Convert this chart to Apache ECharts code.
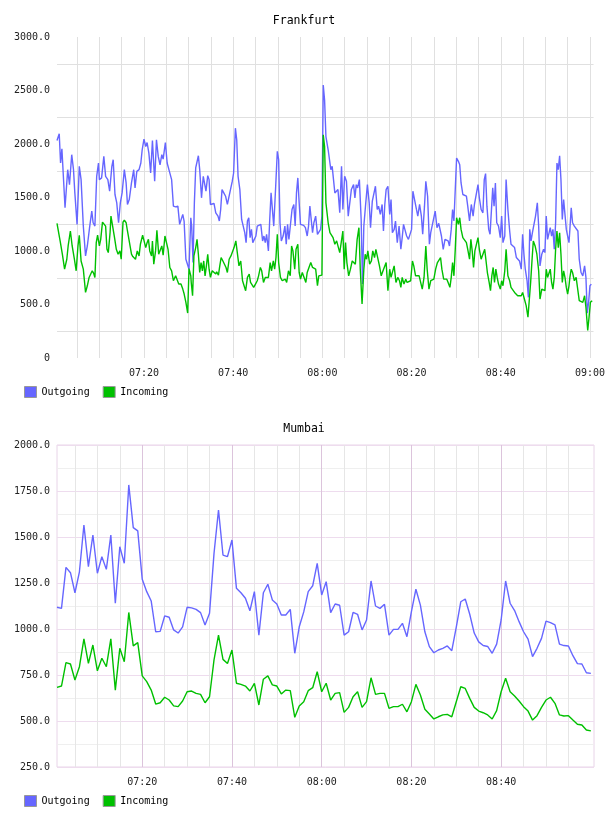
<!DOCTYPE html>
<html><head><meta charset="utf-8">
<script src="https://cdn.jsdelivr.net/npm/echarts@6/dist/echarts.min.js"></script>
<style>html,body{margin:0;padding:0;background:#fff}#c{width:608px;height:816px}</style>
</head><body><div id="c"></div>
<script>
const seriesNames = ['Outgoing', 'Incoming'];
const chartTitles = ['Frankfurt', 'Mumbai'];

// Frankfurt: [minutes after 07:00, value]
const frankfurtOutgoing = [
[0.5,2033],[1.0,2095],[1.3,1822],[1.6,1955],[2.3,1404],[2.9,1760],[3.3,1620],[3.8,1900],[4.2,1760],[4.5,1543],[5.0,1249],[5.5,1791],[5.9,1667],[6.4,1233],[6.9,954],[7.3,1047],[7.8,1218],[8.3,1373],[8.6,1264],[9.0,1233],[9.4,1698],[9.8,1822],[10.0,1667],[10.5,1683],[11.0,1884],[11.4,1698],[11.9,1667],[12.3,1559],[12.8,1791],[13.1,1853],[13.5,1528],[13.9,1450],[14.3,1264],[14.7,1450],[15.1,1543],[15.6,1760],[16.0,1636],[16.3,1435],[16.7,1481],[17.2,1636],[17.7,1760],[18.0,1590],[18.4,1744],[18.9,1760],[19.3,1822],[19.6,1946],[20.0,2045],[20.4,1977],[20.7,2014],[21.1,1915],[21.5,1729],[21.9,2033],[22.4,1652],[22.8,2039],[23.2,1884],[23.6,1806],[24.0,1900],[24.3,1859],[24.8,2014],[25.2,1822],[25.7,1744],[26.2,1667],[26.6,1419],[27.1,1413],[27.6,1419],[28.0,1249],[28.4,1233],[28.7,1342],[29.0,1280],[29.4,923],[29.8,929],[30.1,830],[30.5,1311],
[30.7,1233],[31.0,892],[31.3,1450],[31.6,1776],[31.9,1782],[32.2,1890],[32.5,1760],[32.9,1497],[33.3,1698],[33.7,1704],[33.9,1559],[34.3,1704],[34.6,1667],[34.9,1435],[35.3,1450],[35.7,1444],[36.1,1357],[36.4,1373],[36.6,1326],[36.9,1280],[37.2,1388],[37.5,1574],[37.9,1543],[38.3,1512],[38.7,1435],[39.0,1450],[39.4,1574],[39.8,1652],[40.1,1729],[40.5,2148],[40.8,2039],[41.1,1698],[41.5,1574],[41.9,1295],[42.2,1280],[42.6,1171],[42.9,1078],[43.2,1280],[43.5,1311],[43.8,1125],[44.1,1202],[44.4,1078],[44.7,1063],[45.1,1140],[45.4,1233],[45.8,1249],[46.2,1249],[46.6,1094],[46.9,1140],[47.2,1078],[47.5,1156],[47.9,1001],[48.2,1295],[48.5,1543],[48.8,1543],[49.1,1233],[49.5,1574],[49.9,1931],[50.2,1853],[50.5,1264],[50.8,1094],[51.2,1140],[51.6,1233],[51.9,1063],[52.2,1249],[52.5,1109],[52.8,1094],[53.2,1388],[53.6,1435],[53.9,1233],[54.2,1543],[54.5,1683],[54.8,1450],[55.1,1249],[55.5,1233],[55.8,1240],[56.2,1218],[56.6,1140],[56.9,1233],[57.2,1419],[57.5,1425],[57.8,1171],[58.1,1264],[58.5,1326],[58.9,1156],[59.3,1156],[59.6,1202],[59.9,1326],[60.2,2551],[60.5,2411],[60.8,2070],
[61.3,1946],[61.6,1931],[61.9,1760],[62.2,1791],[62.5,1667],[62.8,1543],[63.2,1559],[63.5,1574],[63.9,1357],[64.3,1791],[64.6,1388],[65.0,1698],[65.4,1652],[65.8,1326],[66.1,1342],[66.5,1574],[67.0,1620],[67.3,1497],[67.6,1620],[67.9,1590],[68.3,1667],[68.7,1295],[69.0,691],[69.3,1233],[69.7,1435],[70.1,1620],[70.5,1450],[70.8,1218],[71.2,1466],[71.5,1450],[71.9,1605],[72.3,1388],[72.6,1419],[73.0,1342],[73.4,1435],[73.7,1187],[74.0,1435],[74.3,1574],[74.7,1605],[75.1,1342],[75.4,1481],[75.7,1171],[76.1,1202],[76.4,1280],[76.8,1078],[77.2,1233],[77.6,1016],[77.9,1125],[78.2,1249],[78.5,1202],[78.9,1140],[79.3,1109],[79.6,1094],[80.0,1202],[80.3,1559],[80.7,1543],[81.1,1388],[81.4,1326],[81.8,1435],[82.2,1326],[82.5,1156],[82.9,1419],[83.2,1652],[83.6,1512],[84.0,1063],[84.3,1171],[84.7,1156],[85.0,1311],[85.3,1373],[85.7,1218],[86.1,1258],[86.4,1249],[86.7,1140],[87.1,1016],[87.5,1109],[87.9,1109],[88.2,1094],[88.5,1047],[88.9,1202],[89.2,1388],[89.5,1280],[89.8,1264],[90.1,1869],[90.5,1838],[90.8,1806],[91.1,1636],
[91.5,1528],[91.9,1528],[92.3,1512],[92.6,1419],[93.0,1280],[93.4,1435],[93.8,1326],[94.1,1435],[94.5,1419],[94.9,1621],[95.2,1497],[95.6,1388],[96.0,1357],[96.3,1667],[96.6,1723],[96.9,1419],[97.3,1202],[97.6,1156],[97.9,1171],[98.2,1590],[98.5,1419],[98.8,1636],[99.1,1264],[99.5,1233],[99.9,1125],[100.2,1326],[100.5,1078],[100.9,1140],[101.2,1667],[101.6,1388],[102.0,1187],[102.3,1063],[102.7,1047],[103.1,1032],[103.5,939],[103.8,939],[104.2,907],[104.6,830],[104.9,1156],[105.2,970],[105.5,830],[105.9,722],[106.2,567],[106.5,1202],[106.8,1094],[107.1,1171],[107.4,1171],[107.8,1326],[108.2,1450],[108.5,1233],[108.8,861],[109.2,970],[109.6,1016],[109.9,985],[110.2,1326],[110.5,1109],[110.8,1125],[111.1,1218],[111.4,1140],[111.7,1202],[112.0,1016],[112.3,1264],[112.6,1822],[112.9,1760],[113.2,1890],[113.5,1667],[113.8,1295],[114.1,1481],[114.4,1481],[114.7,1202],[115.0,1140],[115.3,1078],[115.5,1202],[115.8,1404],[116.1,1264],[116.5,1233],[116.9,1218],[117.3,1187],[117.6,923],[118.0,799],[118.4,768],[118.8,861],[119.1,753],[119.4,420],[119.7,520],[120.0,675],[120.3,691]
];
const frankfurtIncoming = [
[0.5,1258],[0.8,1249],[1.2,1094],[1.7,970],[2.2,830],[2.7,923],[3.0,1047],[3.5,1187],[3.9,1047],[4.4,923],[4.8,815],[5.2,1047],[5.5,1146],[5.9,907],[6.4,830],[6.9,613],[7.3,675],[7.7,753],[8.0,737],[8.4,815],[8.7,793],[9.0,753],[9.3,1078],[9.6,1149],[10.0,1047],[10.3,1109],[10.7,1270],[11.0,1270],[11.4,1233],[11.7,1016],[12.0,985],[12.4,1171],[12.6,1326],[13.0,1326],[13.4,1125],[13.8,1016],[14.2,970],[14.6,1001],[14.9,923],[15.3,1270],[15.6,1289],[16.0,1264],[16.3,1187],[16.7,1177],[17.2,970],[17.5,948],[17.8,954],[18.1,923],[18.5,1001],[18.9,954],[19.2,1063],[19.7,1149],[20.1,1162],[20.4,1032],[20.7,1078],[21.0,1109],[21.3,1001],[21.7,954],[21.9,1094],[22.2,877],[22.6,1001],[22.9,1193],[23.3,970],[23.7,970],[24.0,1047],[24.3,961],[24.7,1140],[25.1,1156],[25.4,1016],[25.8,846],[26.2,815],[26.6,722],[27.1,768],[27.5,753],[27.8,691],[28.3,691],[28.7,644],[29.0,600],[29.4,520],[29.8,420],[30.1,836],[30.5,768],
[30.6,706],[30.9,582],[31.2,954],[31.6,1032],[31.9,1109],[32.2,970],[32.5,799],[32.8,892],[33.1,815],[33.4,907],[33.7,768],[34.0,861],[34.3,970],[34.6,830],[34.9,753],[35.3,815],[35.7,805],[36.1,784],[36.3,805],[36.7,774],[37.0,861],[37.3,939],[37.7,907],[38.0,923],[38.4,846],[38.7,799],[39.1,923],[39.5,954],[39.9,970],[40.2,1032],[40.6,1094],[41.0,1078],[41.3,861],[41.7,907],[42.1,722],[42.5,722],[42.8,629],[43.2,753],[43.6,784],[43.9,706],[44.3,691],[44.6,660],[45.0,691],[45.4,722],[45.7,768],[46.1,846],[46.4,815],[46.8,706],[47.2,753],[47.5,753],[47.9,753],[48.3,892],[48.6,815],[49.0,907],[49.3,830],[49.6,939],[49.9,1156],[50.2,892],[50.6,753],[51.0,722],[51.3,737],[51.7,737],[52.0,706],[52.4,815],[52.8,768],[53.1,1047],[53.4,1001],[53.8,830],[54.1,1016],[54.5,1063],[54.8,799],[55.1,737],[55.5,799],[55.9,753],[56.3,706],[56.6,799],[57.0,815],[57.4,892],[57.8,846],[58.1,830],[58.5,830],[58.9,675],[59.2,768],[59.6,768],[59.9,774],[60.2,2086],[60.5,1977],[60.8,1450],
[61.3,1264],[61.7,1171],[62.0,1171],[62.4,1125],[62.8,1063],[63.2,1094],[63.5,1078],[63.9,985],[64.3,970],[64.6,1187],[64.9,830],[65.2,1078],[65.5,892],[65.9,768],[66.3,830],[66.7,907],[67.0,892],[67.4,877],[67.8,1109],[68.2,1218],[68.5,830],[68.9,505],[69.3,830],[69.6,970],[69.9,923],[70.2,1001],[70.6,877],[71.0,907],[71.3,1001],[71.7,939],[72.0,1016],[72.4,939],[72.8,861],[73.2,768],[73.6,815],[74.0,799],[74.3,892],[74.7,629],[75.1,830],[75.4,753],[75.8,815],[76.1,861],[76.5,706],[76.9,753],[77.3,722],[77.6,660],[77.9,753],[78.3,691],[78.7,737],[79.0,706],[79.4,722],[79.8,722],[80.2,907],[80.5,861],[80.9,768],[81.3,784],[81.7,768],[82.0,753],[82.4,644],[82.8,753],[83.2,1047],[83.5,830],[83.9,644],[84.3,722],[84.6,722],[85.0,737],[85.4,830],[85.8,892],[86.1,907],[86.5,939],[86.8,830],[87.2,737],[87.6,722],[87.9,737],[88.2,706],[88.6,660],[88.9,753],[89.2,892],[89.5,768],[89.8,1016],[90.1,1311],[90.5,1249],[90.8,1311],[91.1,1202],
[91.5,1125],[91.9,1109],[92.3,1078],[92.6,1016],[93.0,923],[93.3,1109],[93.6,1001],[93.9,846],[94.2,1001],[94.5,1016],[94.9,1125],[95.2,1016],[95.6,923],[96.0,923],[96.4,1016],[96.7,1032],[97.0,799],[97.4,706],[97.7,629],[98.0,768],[98.3,846],[98.6,706],[98.9,830],[99.2,753],[99.5,691],[99.9,644],[100.2,722],[100.5,675],[100.9,815],[101.2,1016],[101.6,768],[102.0,722],[102.3,660],[102.7,660],[103.1,613],[103.5,613],[103.8,582],[104.2,567],[104.6,582],[104.9,613],[105.3,551],[105.7,489],[106.1,381],[106.4,381],[106.7,706],[107.0,907],[107.3,1094],[107.7,1047],[108.1,970],[108.5,815],[108.8,551],[109.2,644],[109.6,644],[109.9,629],[110.2,830],[110.5,753],[110.8,768],[111.1,830],[111.4,706],[111.7,644],[112.0,753],[112.3,1016],[112.6,1187],[112.9,1032],[113.2,1171],[113.5,970],[113.8,706],[114.1,815],[114.4,753],[114.7,660],[115.0,598],[115.3,675],[115.5,753],[115.8,830],[116.1,799],[116.5,722],[116.9,753],[117.3,753],[117.6,536],[118.0,520],[118.4,520],[118.8,582],[119.1,474],[119.5,257],[119.8,381],[120.1,520],[120.5,536]
];

// Mumbai: one value per minute, first sample at 07:01
const mumbaiStartMinute = 1;
const mumbaiOutgoing = [
1118,1112,1335,1306,1197,1311,1565,1339,1511,1303,
1393,1324,1511,1140,1447,1357,1783,1551,1533,1270,
1203,1152,985,987,1071,1064,995,978,1012,1118,
1115,1107,1089,1022,1085,1411,1647,1402,1393,1484,
1221,1197,1167,1099,1203,967,1197,1243,1158,1136,
1076,1076,1107,868,1012,1093,1203,1235,1357,1185,
1257,1089,1136,1129,967,985,1090,1080,995,1049,
1261,1125,1112,1134,967,998,998,1031,958,1094,
1216,1130,985,904,871,886,895,908,882,1010,
1148,1163,1080,978,930,910,905,868,918,1049,
1261,1140,1100,1040,985,945,850,895,949,1043,
1035,1022,918,910,908,855,812,810,762,759
];
const mumbaiIncoming = [
683,690,817,810,723,795,946,813,913,773,
841,795,946,668,895,822,1090,908,926,745,
714,668,592,599,629,614,582,578,609,659,
663,650,645,599,632,832,967,835,813,886,
705,699,690,663,705,587,727,745,696,690,
647,668,665,520,582,605,665,681,768,659,
705,614,650,654,547,574,632,659,574,605,
735,645,650,650,569,578,578,591,550,605,
699,641,564,538,511,523,533,536,523,605,
686,677,623,574,554,545,533,511,556,659,
732,659,636,609,578,554,505,529,574,614,
629,596,533,527,529,505,482,478,451,446
];

// tick positions (minutes after 07:00)
const frankfurtGridMinutes = [5,10,15,20,25,30,35,40,45,50,55,60,65,70,75,80,85,90,95,100,105,110,115,120];
const frankfurtLabelMinutes = [20,40,60,80,100,120];
const mumbaiGridMinutes = [5,10,15,20,25,30,35,40,45,50,55,60,65,70,75,80,85,90,95,100,105,110,115];
const mumbaiLabelMinutes = [20,40,60,80,100];

const colors = { out: '#6666ff', inc: '#00c000' };
const font = 'DejaVu Sans Mono';

function pairUp(start, vals) { return vals.map((v, i) => [start + i, v]); }
function fmtTime(m) {
  const h = 7 + Math.floor(m / 60), mm = Math.round(m % 60);
  return String(h).padStart(2, '0') + ':' + String(mm).padStart(2, '0');
}
function fmtVal(v) { return v === 0 ? '0' : v.toFixed(1); }

const chart = echarts.init(document.getElementById('c'), null, { renderer: 'canvas' });
const labelStyle = { fontFamily: font, fontSize: 10, color: '#222' };
const titleStyle = { fontFamily: font, fontSize: 11.5, fontWeight: 'normal', color: '#000' };
const legendBase = {
  data: seriesNames, left: 24, padding: 0, icon: 'rect', itemWidth: 12, itemHeight: 11, itemGap: 13,
  textStyle: { fontFamily: font, fontSize: 10, color: '#000' },
  itemStyle: { borderColor: '#999', borderWidth: 1 }
};
function lineSeries(name, color, xi, data) {
  return { name, type: 'line', xAxisIndex: xi, yAxisIndex: xi, data, symbol: 'none', showSymbol: false,
    lineStyle: { color, width: 1.4 }, itemStyle: { color }, emphasis: { disabled: true } };
}

chart.setOption({
  animation: false,
  title: [
    { text: chartTitles[0], left: 'center', top: 10, textStyle: titleStyle },
    { text: chartTitles[1], left: 'center', top: 418, textStyle: titleStyle }
  ],
  legend: [
    Object.assign({}, legendBase, { top: 386 }),
    Object.assign({}, legendBase, { top: 795 })
  ],
  grid: [
    { left: 57, top: 37, width: 537, height: 321, show: false },
    { left: 57, top: 445, width: 537, height: 322, show: true, borderColor: '#e8d4e8', borderWidth: 1, backgroundColor: 'transparent' }
  ],
  xAxis: [
    { type: 'value', gridIndex: 0, min: 0.5, max: 120.8,
      axisLine: { show: false }, axisTick: { show: false, customValues: frankfurtGridMinutes },
      axisLabel: Object.assign({ customValues: frankfurtLabelMinutes, formatter: fmtTime, margin: 10 }, labelStyle),
      splitLine: { show: true, lineStyle: { color: '#e0e0e0', width: 1 } } },
    { type: 'value', gridIndex: 1, min: 1, max: 120.7,
      axisLine: { show: false }, axisTick: { show: false, customValues: mumbaiGridMinutes },
      axisLabel: Object.assign({ customValues: mumbaiLabelMinutes, formatter: fmtTime, margin: 10 }, labelStyle),
      splitLine: { show: true, lineStyle: { color: ['#e6e6e6', '#e6e6e6', '#e6e6e6', '#dcc4dc'], width: 1 } } }
  ],
  yAxis: [
    { type: 'value', gridIndex: 0, min: 0, max: 3000, interval: 250,
      axisLine: { show: false }, axisTick: { show: false },
      axisLabel: Object.assign({ formatter: v => (v % 500 === 0 ? fmtVal(v) : ''), margin: 7 }, labelStyle),
      splitLine: { show: true, lineStyle: { color: ['transparent', '#e0e0e0'], width: 1 } } },
    { type: 'value', gridIndex: 1, min: 250, max: 2000, interval: 125,
      axisLine: { show: false }, axisTick: { show: false },
      axisLabel: Object.assign({ formatter: v => (v % 250 === 0 ? fmtVal(v) : ''), margin: 7 }, labelStyle),
      splitLine: { show: true, lineStyle: { color: ['#eedcee', '#efefef'], width: 1 } } }
  ],
  series: [
    lineSeries(seriesNames[0], colors.out, 0, frankfurtOutgoing),
    lineSeries(seriesNames[1], colors.inc, 0, frankfurtIncoming),
    lineSeries(seriesNames[0], colors.out, 1, pairUp(mumbaiStartMinute, mumbaiOutgoing)),
    lineSeries(seriesNames[1], colors.inc, 1, pairUp(mumbaiStartMinute, mumbaiIncoming))
  ]
});
</script></body></html>
